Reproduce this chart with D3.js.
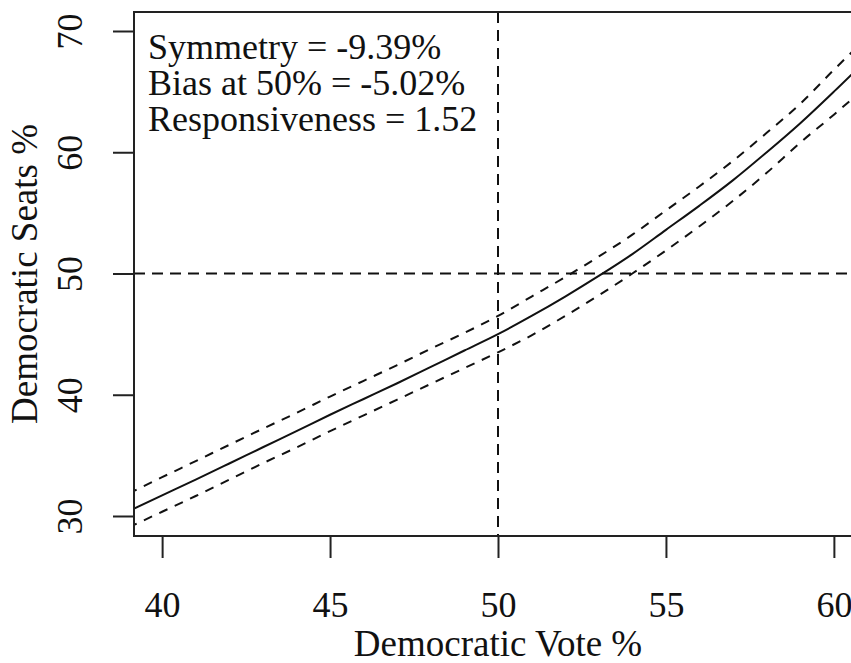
<!DOCTYPE html>
<html>
<head>
<meta charset="utf-8">
<script src="https://cdn.jsdelivr.net/npm/d3@7"></script>
<style>
  body { margin: 0; background: white; }
  text { font-family: "Liberation Serif", "Times New Roman", serif; fill: #111; }
</style>
</head>
<body>
<div id="container"></div>
<script>
// seats-votes curve with its interval
let votes      = [39, 40, 41, 42, 43, 44, 45, 46, 47, 48, 49, 50, 51, 52, 53, 54, 55, 56, 57, 58, 59, 60, 61];
let seatsMid   = [30.4, 31.7, 33.0, 34.33, 35.67, 37.0, 38.35, 39.65, 40.95, 42.3, 43.65, 45.0, 46.5, 48.1, 49.8, 51.6, 53.6, 55.6, 57.7, 60.0, 62.4, 65.0, 67.7];
let seatsUpper = [31.85, 33.2, 34.53, 35.87, 37.2, 38.5, 39.85, 41.15, 42.45, 43.8, 45.1, 46.5, 48.1, 49.7, 51.4, 53.2, 55.2, 57.2, 59.3, 61.6, 64.0, 66.8, 69.5];
let seatsLower = [29.05, 30.35, 31.65, 33.0, 34.35, 35.65, 37.0, 38.3, 39.6, 40.9, 42.2, 43.5, 44.9, 46.5, 48.2, 50.0, 51.9, 53.9, 56.0, 58.3, 60.8, 63.1, 65.5];

let xTicks = [40, 45, 50, 55, 60];
let yTicks = [30, 40, 50, 60, 70];
let refVote = 50;
let refSeat = 50;
let notes = ["Symmetry = -9.39%", "Bias at 50% = -5.02%", "Responsiveness = 1.52"];

let W = 851, H = 663;
let pLeft = 134, pTop = 12, pRight = 862, pBottom = 536;

let viz = d3.select("#container").append("svg")
    .attr("width", W)
    .attr("height", H)

let x = d3.scaleLinear().domain([39.163, 60.837]).range([pLeft, pRight]);
let y = d3.scaleLinear().domain([28.35, 71.567]).range([pBottom, pTop]);

viz.append("clipPath").attr("id", "plotClip")
  .append("rect")
    .attr("x", pLeft).attr("y", pTop)
    .attr("width", pRight - pLeft).attr("height", pBottom - pTop)

let plot = viz.append("g").attr("clip-path", "url(#plotClip)");

// reference lines at 50 / 50
plot.append("line")
    .attr("x1", x(refVote)).attr("x2", x(refVote))
    .attr("y1", pTop).attr("y2", pBottom)
    .attr("stroke", "#111").attr("stroke-width", 2)
    .attr("stroke-dasharray", "11,7")
plot.append("line")
    .attr("x1", pLeft).attr("x2", pRight)
    .attr("y1", y(refSeat)).attr("y2", y(refSeat))
    .attr("stroke", "#111").attr("stroke-width", 2)
    .attr("stroke-dasharray", "11,7")

let line = d3.line()
    .x(d => x(d[0]))
    .y(d => y(d[1]))
    .curve(d3.curveMonotoneX)

function series(vals){
    return votes.map((v, i) => [v, vals[i]])
}

plot.append("path")
    .attr("d", line(series(seatsUpper)))
    .attr("fill", "none").attr("stroke", "#111").attr("stroke-width", 2)
    .attr("stroke-dasharray", "9,8")
plot.append("path")
    .attr("d", line(series(seatsLower)))
    .attr("fill", "none").attr("stroke", "#111").attr("stroke-width", 2)
    .attr("stroke-dasharray", "9,8")
plot.append("path")
    .attr("d", line(series(seatsMid)))
    .attr("fill", "none").attr("stroke", "#111").attr("stroke-width", 2)

// box
viz.append("rect")
    .attr("x", pLeft).attr("y", pTop)
    .attr("width", pRight - pLeft).attr("height", pBottom - pTop)
    .attr("fill", "none").attr("stroke", "#222").attr("stroke-width", 2)

// axes
let xAxis = viz.append("g")
    .attr("transform", "translate(0," + pBottom + ")")
    .call(d3.axisBottom(x).tickValues(xTicks).tickSize(22).tickPadding(33))
xAxis.select(".domain").remove()
xAxis.selectAll("line").attr("stroke", "#222").attr("stroke-width", 2)
xAxis.selectAll("text")
    .attr("font-size", 36)
    .attr("font-family", "'Liberation Serif', 'Times New Roman', serif")
    .attr("fill", "#111")

let yAxis = viz.append("g")
    .attr("transform", "translate(" + pLeft + ",0)")
    .call(d3.axisLeft(y).tickValues(yTicks).tickSize(21))
yAxis.select(".domain").remove()
yAxis.selectAll("line").attr("stroke", "#222").attr("stroke-width", 2)
yAxis.selectAll("text").remove()
yAxis.selectAll(".tick").append("text")
    .attr("transform", "translate(-52,0) rotate(-90)")
    .attr("text-anchor", "middle")
    .attr("font-size", 36)
    .attr("fill", "#111")
    .text(d => d)

// axis titles
viz.append("text")
    .attr("x", (pLeft + pRight) / 2)
    .attr("y", 656)
    .attr("text-anchor", "middle")
    .attr("font-size", 37)
    .text("Democratic Vote %")

viz.append("text")
    .attr("transform", "translate(37," + ((pTop + pBottom) / 2) + ") rotate(-90)")
    .attr("text-anchor", "middle")
    .attr("font-size", 37)
    .text("Democratic Seats %")

// summary text
viz.selectAll("text.note").data(notes).enter().append("text")
    .attr("class", "note")
    .attr("x", 148)
    .attr("y", (d, i) => 59 + i * 36)
    .attr("font-size", 36)
    .text(d => d)
</script>
</body>
</html>
